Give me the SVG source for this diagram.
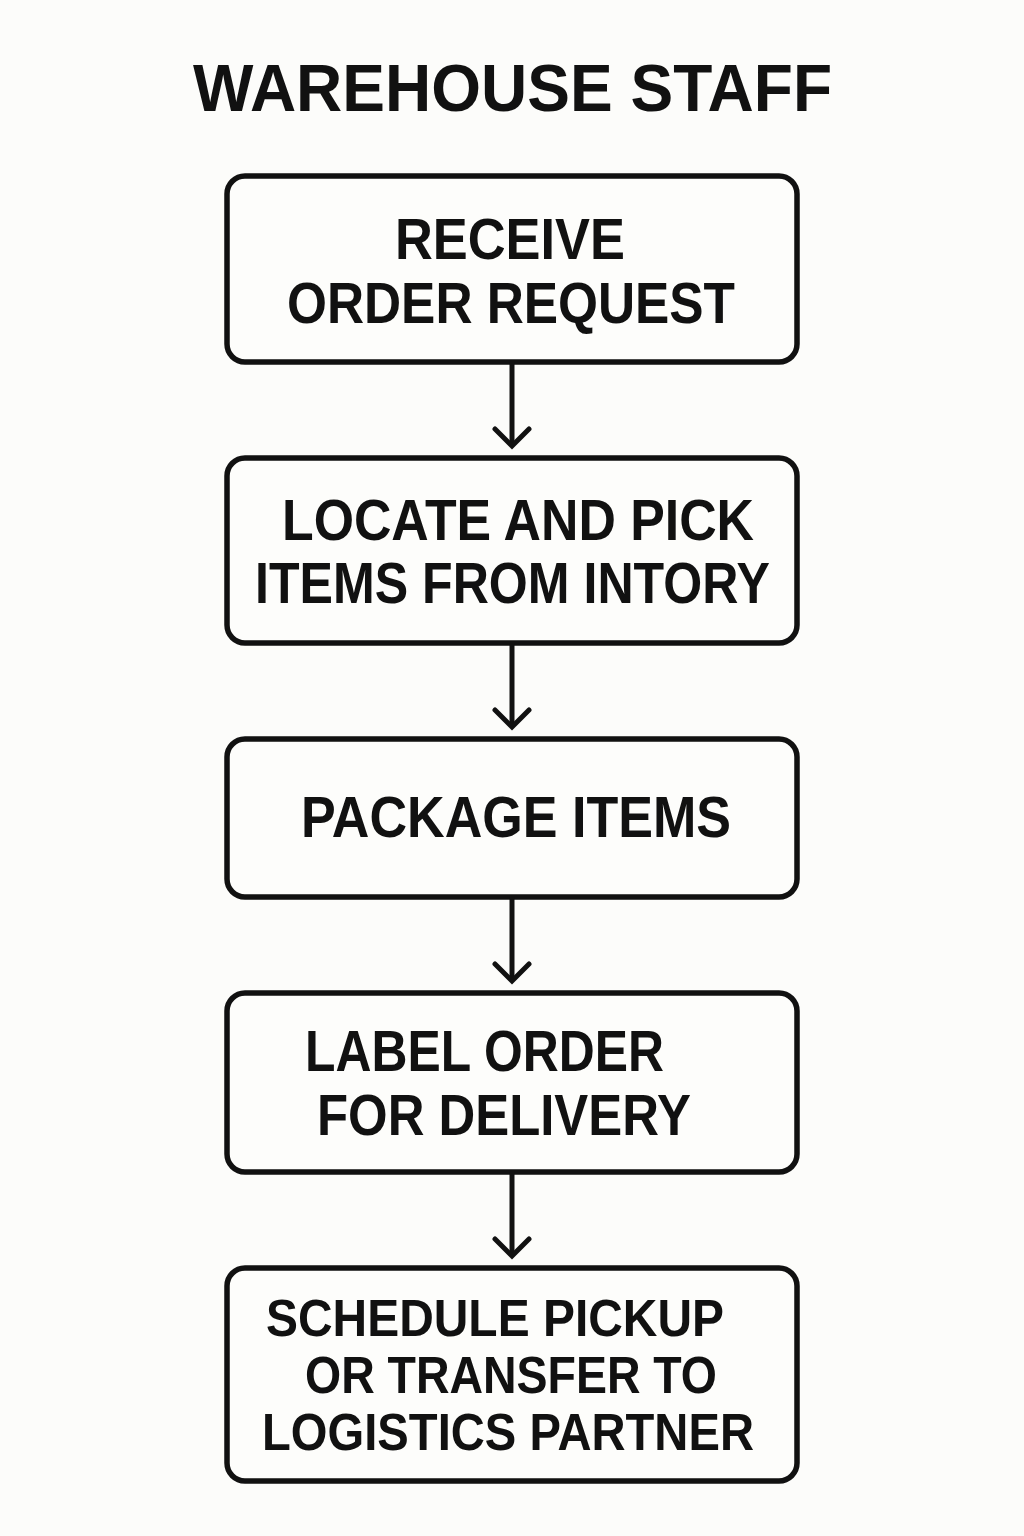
<svg xmlns="http://www.w3.org/2000/svg" width="1024" height="1536" viewBox="0 0 1024 1536">
<defs>
<style>
.bg{fill:#fcfcfa}
.box{fill:#fdfdfb;stroke:#111;stroke-width:5.5}
.t{font-family:"Liberation Sans",Arial,sans-serif;font-weight:bold;font-size:57px;fill:#111}
.s{font-size:51px}
.title{font-family:"Liberation Sans",Arial,sans-serif;font-weight:bold;font-size:67px;fill:#111}
.ln{stroke:#111;stroke-width:5;fill:none}
.hd{stroke:#111;stroke-width:5;fill:none;stroke-linecap:round;stroke-linejoin:miter}
</style>
</defs>
<rect class="bg" x="0" y="0" width="1024" height="1536"/>
<text id="title" class="title" x="193" y="111" textLength="639" lengthAdjust="spacingAndGlyphs">WAREHOUSE STAFF</text>
<g id="node1">
<rect class="box" x="227" y="176" width="570" height="186" rx="18"/>
<text class="t" x="395" y="259" textLength="230" lengthAdjust="spacingAndGlyphs">RECEIVE</text>
<text class="t" x="287" y="323" textLength="448" lengthAdjust="spacingAndGlyphs">ORDER REQUEST</text>
</g>
<g id="node2">
<rect class="box" x="227" y="458" width="570" height="185" rx="18"/>
<text class="t" x="282" y="540" textLength="472" lengthAdjust="spacingAndGlyphs">LOCATE AND PICK</text>
<text class="t" x="255" y="603" textLength="515" lengthAdjust="spacingAndGlyphs">ITEMS FROM INTORY</text>
</g>
<g id="node3">
<rect class="box" x="227" y="739" width="570" height="158" rx="18"/>
<text class="t" x="301" y="837" textLength="430" lengthAdjust="spacingAndGlyphs">PACKAGE ITEMS</text>
</g>
<g id="node4">
<rect class="box" x="227" y="993" width="570" height="179" rx="18"/>
<text class="t" x="305" y="1071" textLength="359" lengthAdjust="spacingAndGlyphs">LABEL ORDER</text>
<text class="t" x="317" y="1135" textLength="374" lengthAdjust="spacingAndGlyphs">FOR DELIVERY</text>
</g>
<g id="node5">
<rect class="box" x="227" y="1268" width="570" height="213" rx="18"/>
<text class="t s" x="266" y="1336" textLength="458" lengthAdjust="spacingAndGlyphs">SCHEDULE PICKUP</text>
<text class="t s" x="305" y="1393" textLength="412" lengthAdjust="spacingAndGlyphs">OR TRANSFER TO</text>
<text class="t s" x="262" y="1450" textLength="492" lengthAdjust="spacingAndGlyphs">LOGISTICS PARTNER</text>
</g>
<g id="connectors">
<line class="ln" x1="512" y1="362" x2="512" y2="444"/>
<polyline class="hd" points="495,429 512,446 529,429"/>
<line class="ln" x1="512" y1="643" x2="512" y2="725"/>
<polyline class="hd" points="495,710 512,727 529,710"/>
<line class="ln" x1="512" y1="897" x2="512" y2="979"/>
<polyline class="hd" points="495,964 512,981 529,964"/>
<line class="ln" x1="512" y1="1172" x2="512" y2="1254"/>
<polyline class="hd" points="495,1239 512,1256 529,1239"/>
</g>
</svg>
